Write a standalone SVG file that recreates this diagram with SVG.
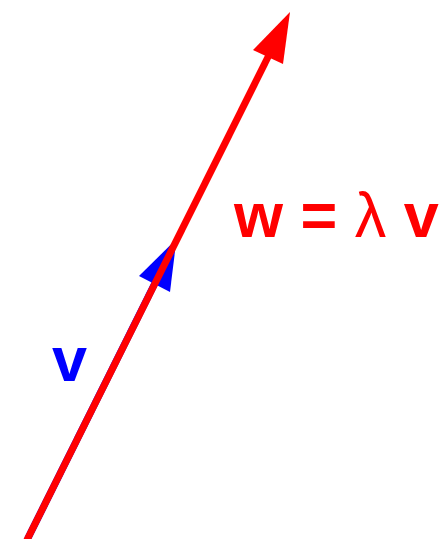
<svg xmlns="http://www.w3.org/2000/svg" width="447" height="539" viewBox="0 0 447 539">
  <style>
    .lbl { font-family: "Liberation Sans", Arial, sans-serif; font-weight: bold; font-size: 63px; }
  </style>
  <rect width="447" height="539" fill="#ffffff"/>
  <g id="connectors">
    <g id="vec-v">
      <line x1="27.5" y1="539" x2="160" y2="273" stroke="#0000ff" stroke-width="7"/>
      <polygon points="176.5,239 170,292 139,276" fill="#0000ff"/>
    </g>
    <g id="vec-w">
      <line x1="24" y1="546" x2="270" y2="53" stroke="#ff0000" stroke-width="7"/>
      <polygon points="290,12 283,64 253,50" fill="#ff0000"/>
    </g>
  </g>
  <g id="label-w">
    <text class="lbl" x="234" y="237" fill="#ff0000">w = <tspan font-weight="normal">λ</tspan> v</text>
  </g>
  <g id="label-v">
    <text class="lbl" x="52" y="381" fill="#0000ff">v</text>
  </g>
</svg>
